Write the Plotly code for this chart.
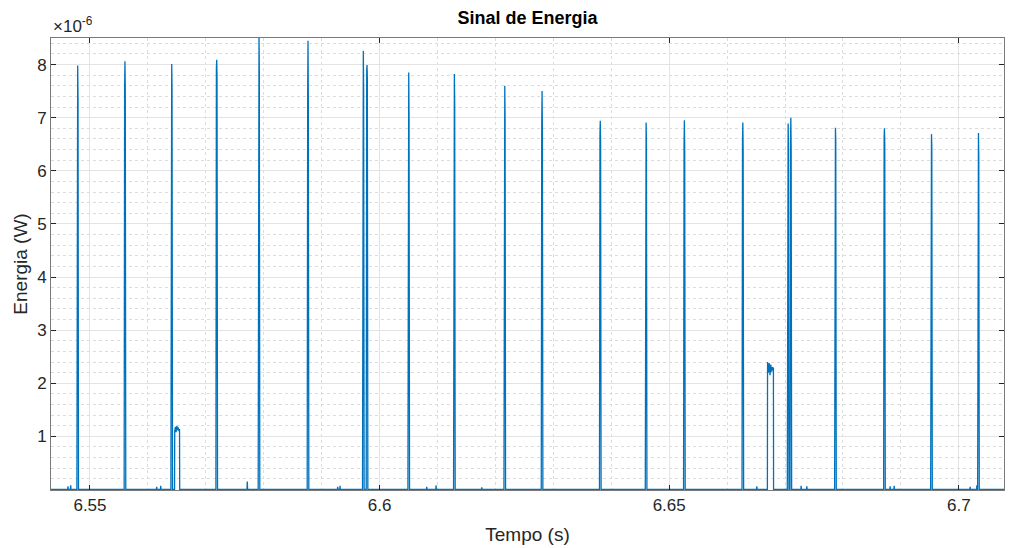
import plotly.graph_objects as go

# ---------------- data (energy in units of 1e-6 W) ----------------
spike_time = [6.54788, 6.55604, 6.56411, 6.57188, 6.57918, 6.58764, 6.59719, 6.59783,
              6.60503, 6.61291, 6.62161, 6.62805, 6.63810, 6.64601, 6.65262, 6.66271,
              6.67053, 6.67100, 6.67870, 6.68716, 6.69528, 6.70339]
spike_peak = [7.98, 8.06, 8.01, 8.09, 8.60, 8.45, 8.26, 7.99,
              7.85, 7.82, 7.60, 7.50, 6.94, 6.91, 6.95, 6.91,
              6.89, 7.00, 6.81, 6.80, 6.69, 6.71]
spike_shoulder = [7.47, 7.62, 7.71, 7.93, 8.03, 7.47, 7.67, 7.89,
                  7.15, 7.40, 7.13, 6.89, 6.69, 6.73, 6.51, 6.54,
                  6.65, 6.54, 6.69, 6.63, 6.59, 6.40]

plateau1_time = [6.56463, 6.56475, 6.56487, 6.56499, 6.56511, 6.56523, 6.56535, 6.56546]
plateau1_val = [1.10, 1.18, 1.08, 1.20, 1.12, 1.17, 1.10, 1.14]
plateau2_time = [6.66698, 6.66712, 6.66726, 6.66740, 6.66754, 6.66768, 6.66782, 6.66799]
plateau2_val = [2.40, 2.20, 2.38, 2.15, 2.35, 2.22, 2.30, 2.28]

blip_time = [6.54620, 6.54667, 6.56152, 6.56221, 6.57716, 6.59277, 6.59317, 6.60814,
             6.60975, 6.61764, 6.66513, 6.67278, 6.67376, 6.68814, 6.68884, 6.70196, 6.70311]
blip_val = [0.06, 0.08, 0.05, 0.07, 0.15, 0.05, 0.07, 0.05,
            0.08, 0.04, 0.06, 0.07, 0.06, 0.06, 0.07, 0.05, 0.08]

t_start, t_end = 6.54327, 6.7078
x_tickvals = [6.55, 6.60, 6.65, 6.70]
x_ticktext = ["6.55", "6.6", "6.65", "6.7"]
y_tickvals = [1, 2, 3, 4, 5, 6, 7, 8]
y_ticktext = ["1", "2", "3", "4", "5", "6", "7", "8"]

# ---------------- build the sampled signal ----------------
d = 0.00014
pts = [(t_start, 0.0), (t_end, 0.0)]
for t, p, s in zip(spike_time, spike_peak, spike_shoulder):
    pts += [(t - d, 0.0), (t - d * 0.4, s), (t, p), (t + d * 0.4, s * 0.98), (t + d, 0.0)]
for tt, vv in ((plateau1_time, plateau1_val), (plateau2_time, plateau2_val)):
    pts.append((tt[0] - 0.00003, 0.0))
    pts += list(zip(tt, vv))
    pts.append((tt[-1] + 0.00003, 0.0))
for t, v in zip(blip_time, blip_val):
    pts += [(t - 0.00005, 0.0), (t, v), (t + 0.00005, 0.0)]
pts.sort(key=lambda p: p[0])
xs = [p[0] for p in pts]
ys = [p[1] for p in pts]

fig = go.Figure()
fig.add_trace(go.Scatter(x=xs, y=ys, mode="lines",
                         line=dict(color="#0072BD", width=1.3),
                         cliponaxis=True, showlegend=False))

font_family = "Liberation Sans, Arial, Helvetica, sans-serif"
axis_common = dict(
    showline=True, mirror="ticks", linecolor="#7a7a7a", linewidth=1,
    ticks="inside", ticklen=5, tickcolor="#262626",
    showgrid=True, gridcolor="#e3e3e3", gridwidth=1,
    zeroline=False, automargin=False,
    tickfont=dict(family=font_family, size=17, color="#262626"),
)

W, H = 997, 540
fig.update_layout(
    width=W, height=H,
    margin=dict(l=43, r=1, t=30, b=58),
    paper_bgcolor="white", plot_bgcolor="white",
    title=dict(text="<b>Sinal de Energia</b>", x=0.5, xref="paper", xanchor="center",
               y=1 - 10 / H, yref="container", yanchor="middle",
               font=dict(family=font_family, size=18, color="#000000")),
    xaxis=dict(range=[t_start, t_end], tickvals=x_tickvals, ticktext=x_ticktext,
               title=dict(text="Tempo (s)", standoff=13,
                          font=dict(family=font_family, size=19, color="#262626")),
               minor=dict(dtick=0.01, tick0=6.55, showgrid=True, gridcolor="#dcdcdc",
                          griddash="dot", gridwidth=1, ticks=""),
               **axis_common),
    yaxis=dict(range=[-0.01, 8.5], tickvals=y_tickvals, ticktext=y_ticktext,
               title=dict(text="Energia (W)", standoff=4,
                          font=dict(family=font_family, size=19, color="#262626")),
               minor=dict(dtick=0.2, tick0=0, showgrid=True, gridcolor="#dcdcdc",
                          griddash="dot", gridwidth=1, ticks=""),
               **axis_common),
    annotations=[dict(text="×10<sup>-6</sup>", xref="paper", yref="paper",
                      x=0, y=1, xanchor="left", yanchor="bottom", yshift=0,
                      showarrow=False,
                      font=dict(family=font_family, size=17, color="#262626"))],
)

fig.write_html("out.html")
